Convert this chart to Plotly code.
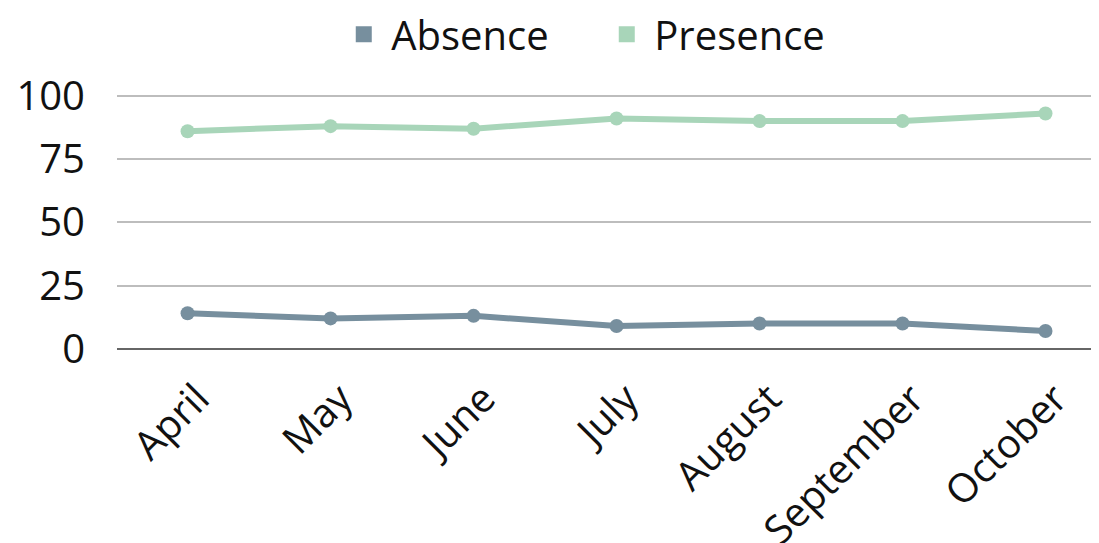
import plotly.graph_objects as go

months = ["April", "May", "June", "July", "August", "September", "October"]
absence = [14, 12, 13, 9, 10, 10, 7]
presence = [86, 88, 87, 91, 90, 90, 93]

c_abs = "#778f9e"
c_pre = "#a8d5b9"
FONT = "Open Sans"

fig = go.Figure()
for name, vals, col in [("Absence", absence, c_abs), ("Presence", presence, c_pre)]:
    fig.add_trace(go.Scatter(x=months, y=vals, mode="lines+markers", name=name,
                             line=dict(color=col, width=6),
                             marker=dict(color=col, size=14),
                             showlegend=False, cliponaxis=False))
for name, col in [("Absence", c_abs), ("Presence", c_pre)]:
    fig.add_trace(go.Scatter(x=[None], y=[None], mode="markers", name=name,
                             marker=dict(color=col, size=22, symbol="square")))

fig.update_layout(
    width=1099, height=543,
    margin=dict(l=109, r=0, t=84, b=201, autoexpand=False),
    paper_bgcolor="white", plot_bgcolor="white",
    font=dict(family=FONT, size=40, color="#111111"),
    legend=dict(orientation="h", x=0.538, xanchor="center", xref="container",
                y=1.35, yanchor="top", yref="paper", font=dict(size=40),
                entrywidth=203, entrywidthmode="pixels", itemwidth=45),
    xaxis=dict(range=[-0.4936, 6.43], tickangle=-45, showgrid=False, showline=False,
               ticks="", tickfont=dict(size=40), automargin=False, ticklabelstandoff=16,
               ticklabelshift=10),
    yaxis=dict(range=[-0.5, 101.5], tickvals=[0, 25, 50, 75, 100], showgrid=True,
               gridcolor="#bdbdbd", gridwidth=2, zeroline=True, zerolinecolor="#666666",
               zerolinewidth=2, ticks="", ticklabelstandoff=31, tickfont=dict(size=40),
               automargin=False),
)
fig.write_html("out.html")
